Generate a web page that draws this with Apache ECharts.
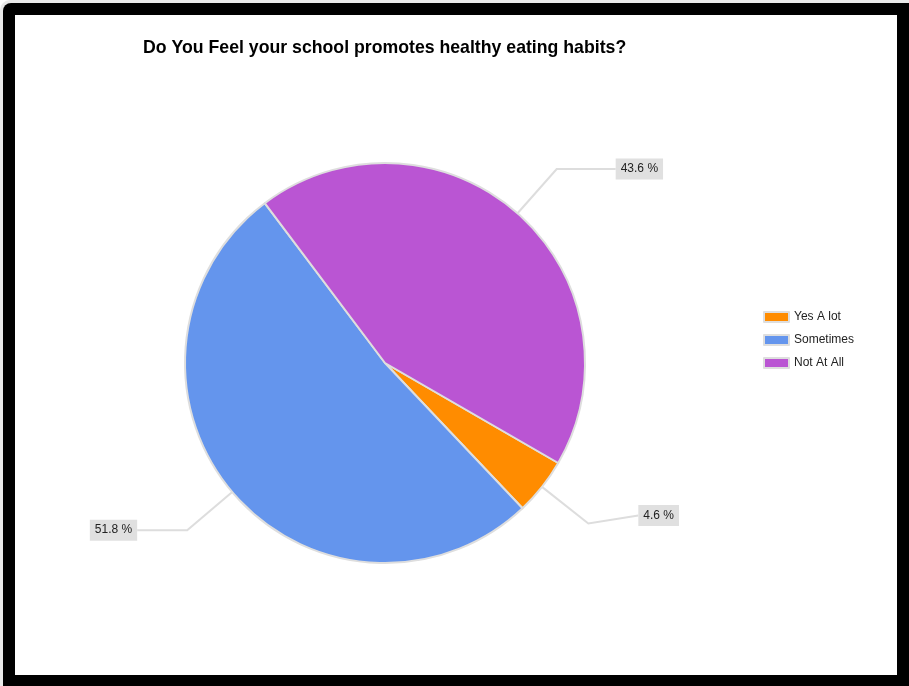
<!DOCTYPE html>
<html>
<head>
<meta charset="utf-8">
<script src="https://cdn.jsdelivr.net/npm/echarts@6/dist/echarts.min.js"></script>
<style>
  html, body { margin: 0; padding: 0; background: #ffffff; }
  #chart { width: 909px; height: 686px; }
</style>
</head>
<body>
<div id="chart"></div>
<script>
// Survey answers and their shares (percent)
const categories = ['Yes A lot', 'Sometimes', 'Not At All'];
const shares = [4.6, 51.8, 43.6];
const sliceColors = ['#FF8C00', '#6495ED', '#BA55D3'];
const titleText = 'Do You Feel your school promotes healthy eating habits?';

const chart = echarts.init(document.getElementById('chart'), null, { renderer: 'canvas' });

// the "Not At All" callout has a slightly longer horizontal leader
const leaderTail = [50, 50, 59];

const pieData = categories.map((name, i) => ({
  name: name,
  value: shares[i],
  itemStyle: { color: sliceColors[i] },
  labelLine: { length2: leaderTail[i] }
}));

// lift the small-slice callout a little and bend its leader up to meet it
function liftSmallLabel(p) {
  if (p.dataIndex !== 0 || !p.labelLinePoints) return {};
  const lift = 8;
  const pts = p.labelLinePoints.map(q => q.slice());
  pts[pts.length - 1][1] -= lift;
  return { dy: -lift, labelLinePoints: pts };
}

chart.setOption({
  backgroundColor: '#ffffff',
  animation: false,
  graphic: [
    // soft shadow behind the frame
    { type: 'rect', z: -12, shape: { x: 0, y: 0, width: 909, height: 686, r: [10, 0, 0, 0] }, style: { fill: '#e9e9e9' } },
    // thick black frame
    { type: 'rect', z: -11, shape: { x: 3, y: 3, width: 906, height: 683, r: [8, 0, 0, 0] }, style: { fill: '#000000' } },
    // white drawing area
    { type: 'rect', z: -10, shape: { x: 15, y: 15, width: 882, height: 660 }, style: { fill: '#ffffff' } }
  ],
  title: {
    text: titleText,
    left: 138,
    top: 34,
    textStyle: {
      fontFamily: 'Liberation Sans, Arial, sans-serif',
      fontSize: 17.7,
      fontWeight: 'bold',
      color: '#000000'
    }
  },
  legend: {
    orient: 'vertical',
    left: 763,
    top: 311,
    padding: 0,
    itemWidth: 25,
    itemHeight: 10,
    itemGap: 11,
    icon: 'rect',
    data: categories,
    textStyle: {
      fontFamily: 'Liberation Sans, Arial, sans-serif',
      fontSize: 12,
      color: '#222222'
    }
  },
  series: [{
    type: 'pie',
    center: [385, 363],
    radius: 200,
    startAngle: -30,
    clockwise: true,
    data: pieData,
    itemStyle: {
      borderColor: '#dedede',
      borderWidth: 2
    },
    label: {
      show: true,
      position: 'outside',
      formatter: p => p.value + ' %',
      fontFamily: 'Liberation Sans, Arial, sans-serif',
      fontSize: 12,
      color: '#222222',
      backgroundColor: '#e0e0e0',
      padding: [5, 5, 4, 5],
      distanceToLabelLine: 0
    },
    labelLine: {
      show: true,
      length: 59,
      length2: 50,
      lineStyle: { color: '#dddddd', width: 2 }
    },
    labelLayout: liftSmallLabel,
    emphasis: { disabled: true }
  }]
});
</script>
</body>
</html>
